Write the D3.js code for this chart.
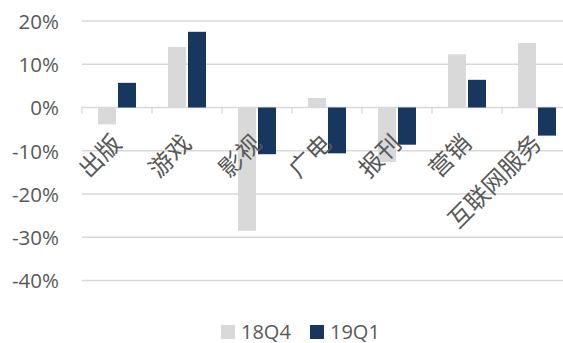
<!DOCTYPE html>
<html>
<head>
<meta charset="utf-8">
<script src="https://cdn.jsdelivr.net/npm/d3@7"></script>
<style>
html,body{margin:0;padding:0;background:#fff;}
svg{display:block;}
</style>
</head>
<body>
<svg id="chart" width="563" height="343"></svg>
<script>
const categories = ["出版", "游戏", "影视", "广电", "报刊", "营销", "互联网服务"];
const series = ["18Q4", "19Q1"];
const values18Q4 = [-0.039, 0.140, -0.285, 0.022, -0.126, 0.123, 0.149];
const values19Q1 = [0.057, 0.175, -0.108, -0.106, -0.086, 0.064, -0.065];
const yTicks = [0.2, 0.1, 0, -0.1, -0.2, -0.3, -0.4];
const colors = ["#d9d9d9", "#17375e"];

const svg = d3.select("#chart");
const textColor = "#595959";
const latin = "'Open Sans', 'Noto Sans', sans-serif";
const cjk = "'Noto Sans CJK SC', sans-serif";

const y = d3.scaleLinear().domain([-0.4, 0.2]).range([280.5, 21]);
const x0 = d3.scaleBand().domain(categories).range([82, 572])
  .paddingInner(0.457).paddingOuter(0.2285);
const x1 = d3.scaleBand().domain(series).range([0, x0.bandwidth()])
  .paddingInner(0.1).paddingOuter(0);

// gridlines
svg.append("g").selectAll("line").data(yTicks.filter(d => d !== 0)).join("line")
  .attr("x1", 82).attr("x2", 572)
  .attr("y1", d => y(d)).attr("y2", d => y(d))
  .attr("stroke", "#d9d9d9").attr("stroke-width", 1.3);

// y labels
const yAxis = d3.axisLeft(y).tickValues(yTicks).tickSize(0).tickPadding(0)
  .tickFormat(d => Math.round(d * 100) + "%");
const yg = svg.append("g").attr("transform", "translate(59,0)").call(yAxis);
yg.select(".domain").remove();
yg.selectAll("text").attr("fill", textColor).style("font-family", latin)
  .style("font-size", "20.5px").attr("dy", "0.36em");

// zero axis with ticks at category boundaries
const half = (x0.step() - x0.bandwidth()) / 2;
const boundaries = categories.map(c => x0(c) - half);
svg.append("line").attr("x1", 82).attr("x2", 572)
  .attr("y1", y(0)).attr("y2", y(0))
  .attr("stroke", "#d9d9d9").attr("stroke-width", 1.3);
svg.append("g").selectAll("line").data(boundaries).join("line")
  .attr("x1", d => d).attr("x2", d => d)
  .attr("y1", y(0)).attr("y2", y(0) + 6)
  .attr("stroke", "#d9d9d9").attr("stroke-width", 1.3);

// bars
const data = categories.map((c, i) => ({
  cat: c,
  vals: [{s: series[0], v: values18Q4[i]}, {s: series[1], v: values19Q1[i]}]
}));
const groups = svg.append("g").selectAll("g").data(data).join("g")
  .attr("transform", d => `translate(${x0(d.cat)},0)`);
groups.selectAll("rect").data(d => d.vals).join("rect")
  .attr("x", d => x1(d.s))
  .attr("width", x1.bandwidth())
  .attr("y", d => Math.min(y(d.v), y(0)))
  .attr("height", d => Math.abs(y(d.v) - y(0)))
  .attr("fill", (d, i) => colors[i]);

// category labels rotated
svg.append("g").selectAll("text").data(categories).join("text")
  .attr("transform", c => `translate(${x0(c) + x0.bandwidth() / 2 + 6},145) rotate(-45)`)
  .attr("text-anchor", "end")
  .attr("fill", textColor)
  .style("font-family", cjk)
  .style("font-size", "24px")
  .text(c => c);

// legend
const legend = svg.append("g");
const items = [{x: 221, label: series[0], color: colors[0]}, {x: 310, label: series[1], color: colors[1]}];
items.forEach(it => {
  legend.append("rect").attr("x", it.x).attr("y", 325).attr("width", 14).attr("height", 14).attr("fill", it.color);
  legend.append("text").attr("x", it.x + 20).attr("y", 338.5)
    .attr("fill", textColor).style("font-family", latin).style("font-size", "20px")
    .text(it.label);
});
</script>
</body>
</html>
